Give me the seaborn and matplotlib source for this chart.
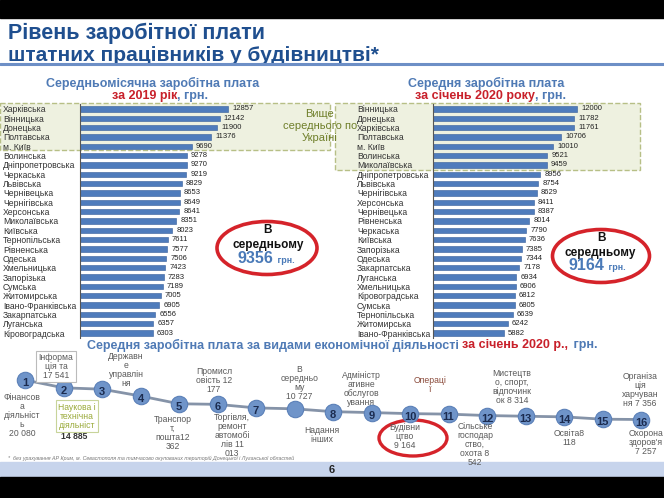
import matplotlib
matplotlib.use('Agg')
import matplotlib.pyplot as plt
import seaborn as sns
import pandas as pd
from matplotlib.patches import Rectangle, Ellipse

# ---------------- data ----------------
regions_2019 = ['Харківська', 'Вінницька', 'Донецька', 'Полтавська', 'м. Київ', 'Волинська',
                'Дніпропетровська', 'Черкаська', 'Львівська', 'Чернівецька', 'Чернігівська',
                'Херсонська', 'Миколаївська', 'Київська', 'Тернопільська', 'Рівненська',
                'Одеська', 'Хмельницька', 'Запорізька', 'Сумська', 'Житомирська',
                'Івано-Франківська', 'Закарпатська', 'Луганська', 'Кіровоградська']
wages_2019 = [12857, 12142, 11900, 11376, 9690, 9278, 9270, 9219, 8829, 8653, 8649, 8641,
              8351, 8023, 7611, 7577, 7506, 7423, 7283, 7189, 7005, 6905, 6556, 6357, 6303]

regions_2020 = ['Вінницька', 'Донецька', 'Харківська', 'Полтавська', 'м. Київ', 'Волинська',
                'Миколаївська', 'Дніпропетровська', 'Львівська', 'Чернігівська', 'Херсонська',
                'Чернівецька', 'Рівненська', 'Черкаська', 'Київська', 'Запорізька', 'Одеська',
                'Закарпатська', 'Луганська', 'Хмельницька', 'Кіровоградська', 'Сумська',
                'Тернопільська', 'Житомирська', 'Івано-Франківська']
wages_2020 = [12000, 11782, 11761, 10706, 10010, 9521, 9459, 8956, 8754, 8629, 8411, 8387,
              8014, 7790, 7636, 7385, 7344, 7178, 6934, 6906, 6812, 6805, 6639, 6242, 5882]

avg_2019 = 9356
avg_2020 = 9164

sector_nums = ['1', '2', '3', '4', '5', '6', '7', '', '8', '9', '10', '11', '12', '13', '14', '15', '16']
sector_vals = [20080, 17541, 17100, 14885, 12362, 12177, 11013, 10727, 9800, 9500, 9164,
               9000, 8542, 8314, 8118, 7356, 7257]
sector_labels = ['Фінансов\nа\nдіяльніст\nь\n20 080',
                 'Інформа\nція та\n17 541',
                 'Державн\nе\nуправлін\nня',
                 'Наукова і\nтехнічна\nдіяльніст',
                 'Транспор\nт,\nпошта12\n362',
                 'Промисл\nовість 12\n177',
                 'Торгівля,\nремонт\nавтомобі\nлів 11\n013',
                 'В\nсередньо\nму\n10 727',
                 'Надання\nінших',
                 'Адміністр\nативне\nобслугов\nування',
                 'Будівни\nцтво\n9 164',
                 'Операці\nї',
                 'Сільське\nгосподар\nство,\nохота 8\n542',
                 'Мистецтв\nо, спорт,\nвідпочинк\nок 8 314',
                 'Освіта8\n118',
                 'Організа\nція\nхарчуван\nня 7 356',
                 'Охорона\nздоров\'я\n7 257']

# ---------------- style ----------------
sns.set_theme(style='white')
plt.rcParams['font.family'] = ['Liberation Sans', 'DejaVu Sans']

W, H = 664, 498
fig = plt.figure(figsize=(6.64, 4.98), dpi=100)
fig.patch.set_facecolor('white')

def frect(x0, y0, x1, y1):
    return [x0 / W, 1 - y1 / H, (x1 - x0) / W, (y1 - y0) / H]

BLUE_T = '#1f4f8f'
BLUE_S = '#4f7ab5'
RED = '#c8202a'
BAR = '#4f7cbc'

bg = fig.add_axes([0, 0, 1, 1])
bg.set_xlim(0, W)
bg.set_ylim(H, 0)
bg.axis('off')

# bands
bg.add_patch(Rectangle((0, 0), W, 18, color='black', zorder=5))
bg.add_patch(Rectangle((0, 477), W, 21, color='black', zorder=5))
bg.add_patch(Rectangle((0, 462), W, 15, color='#c7d4ec', zorder=1))
bg.text(332, 470, '6', ha='center', va='center', fontsize=8, fontweight='bold', color='#222')

# title
bg.text(8, 33, 'Рівень заробітної плати', ha='left', va='center', fontsize=15.5,
        fontweight='bold', color=BLUE_T)
bg.text(8, 55, 'штатних працівників у будівництві*', ha='left', va='center', fontsize=15,
        fontweight='bold', color=BLUE_T)
bg.plot([0, W], [64, 64], color='#6d8fc6', lw=2.2, zorder=4)

# highlight boxes
bg.add_patch(Rectangle((0, 103), 330, 47, facecolor='#eef1e0', edgecolor='#b7bf86',
                       ls='--', lw=1, zorder=1))
bg.add_patch(Rectangle((335, 103), 305, 67, facecolor='#eef1e0', edgecolor='#b7bf86',
                       ls='--', lw=1, zorder=1))
bg.text(320, 126, 'Вище\nсереднього по\nУкраїні', ha='center', va='center', fontsize=8,
        color='#6f7f2a', linespacing=1.2, zorder=2)

# subtitles
bg.text(153, 83, 'Середньомісячна заробітна плата', ha='center', va='center', fontsize=9,
        fontweight='bold', color=BLUE_S)
bg.text(177, 96, 'за 2019 рік', ha='right', va='center', fontsize=9, fontweight='bold', color=RED)
bg.text(177, 96, ', грн.', ha='left', va='center', fontsize=9, fontweight='bold', color=BLUE_S)
bg.text(486, 83, 'Середня заробітна плата', ha='center', va='center', fontsize=9,
        fontweight='bold', color=BLUE_S)
bg.text(535, 96, 'за січень 2020 року', ha='right', va='center', fontsize=9, fontweight='bold', color=RED)
bg.text(535, 96, ', грн.', ha='left', va='center', fontsize=9, fontweight='bold', color=BLUE_S)

# ellipses
bg.add_patch(Ellipse((267, 248), 100, 53, fill=False, ec='#d5232a', lw=2.6, zorder=3))
bg.text(268, 230, 'В', ha='center', va='center', fontsize=8.5, fontweight='bold', color='#111')
bg.text(268, 245, 'середньому', ha='center', va='center', fontsize=8.5, fontweight='bold', color='#111')
bg.text(273, 263, f'{avg_2019}', ha='right', va='baseline', fontsize=11.5, fontweight='bold', color='#4a7ab8')
bg.text(275, 263, ' грн.', ha='left', va='baseline', fontsize=6.5, fontweight='bold', color='#4a7ab8')

bg.add_patch(Ellipse((601, 256), 97, 53, fill=False, ec='#d5232a', lw=2.6, zorder=3))
bg.text(602, 238, 'В', ha='center', va='center', fontsize=8.5, fontweight='bold', color='#111')
bg.text(600, 253, 'середньому', ha='center', va='center', fontsize=8.5, fontweight='bold', color='#111')
bg.text(604, 270, f'{avg_2020}', ha='right', va='baseline', fontsize=11.5, fontweight='bold', color='#4a7ab8')
bg.text(606, 270, ' грн.', ha='left', va='baseline', fontsize=6.5, fontweight='bold', color='#4a7ab8')

# bottom title
bg.text(462, 345, 'Середня заробітна плата за видами економічної діяльності ', ha='right',
        va='center', fontsize=9, fontweight='bold', color=BLUE_S)
bg.text(462, 345, 'за січень 2020 р.,', ha='left', va='center', fontsize=9,
        fontweight='bold', color=RED)
bg.text(570, 345, ' грн.', ha='left', va='center', fontsize=9, fontweight='bold', color=BLUE_S)

# footnote
bg.text(8, 458, '*  без урахування АР Крим, м. Севастополя та тимчасово окупованих територій '
        'Донецької і Луганської областей', ha='left', va='center', fontsize=3.8,
        style='italic', color='#777')

# ---------------- bar charts ----------------
def bar_panel(rect, cats, vals, xmax, pad_px):
    ax = fig.add_axes(rect)
    df = pd.DataFrame({'region': cats, 'wage': vals})
    sns.barplot(data=df, x='wage', y='region', orient='h', color=BAR, saturation=1,
                width=0.55, edgecolor='#355d9a', linewidth=0.4, ax=ax)
    ax.set_xlim(0, xmax)
    ax.set_ylim(len(cats) - 0.5, -0.5)
    ax.set_facecolor('none')
    ax.set_xlabel('')
    ax.set_ylabel('')
    ax.set_xticks([])
    for s in ['top', 'right', 'bottom']:
        ax.spines[s].set_visible(False)
    ax.spines['left'].set_color('#555')
    ax.spines['left'].set_linewidth(0.8)
    ax.tick_params(axis='y', length=0, pad=pad_px * 0.72, labelsize=6.2, labelcolor='#333')
    for lab in ax.get_yticklabels():
        lab.set_horizontalalignment('left')
    ax.bar_label(ax.containers[0], labels=[str(v) for v in vals], padding=3,
                 fontsize=5.5, color='#222')
    return ax

bar_panel(frect(80, 104.3, 330, 337.7), regions_2019, wages_2019, 250 / (148 / 12857), 77)
bar_panel(frect(433, 104.3, 633, 337.7), regions_2020, wages_2020, 200 / (144 / 12000), 76)

# ---------------- sector line ----------------
ax3 = fig.add_axes(frect(25, 380, 641, 419.5))
ax3.set_facecolor('none')
pos = list(range(len(sector_vals)))
df3 = pd.DataFrame({'pos': pos, 'val': sector_vals})
sns.lineplot(data=df3, x='pos', y='val', ax=ax3, color='#8593a8', lw=2, zorder=2)
sns.scatterplot(data=df3, x='pos', y='val', ax=ax3, s=140, color='#6f94c9',
                edgecolor='#5b80b8', linewidth=0.8, zorder=3)
ax3.set_xlim(0, 16)
ax3.set_ylim(7257, 20080)
ax3.axis('off')
for art in ax3.collections + ax3.lines:
    art.set_clip_on(False)

for i, (n, v) in enumerate(zip(sector_nums, sector_vals)):
    if n:
        ax3.annotate(n, (i, v), xytext=(0, -3), textcoords='offset pixels', ha='center',
                     va='center', fontsize=8, fontweight='bold', color='#1b2b4f', zorder=4)

# label offsets (pixels right, pixels down) relative to each point
offsets = [(-3, 35), (-7.5, -21), (24, -19), (-63.5, 20), (-6, 29), (-3.5, -24), (-24, 28),
           (5, -26), (-11, 23), (-10, -24), (-5, 23), (-18.5, -29), (-12, 29), (-13.5, -29),
           (5, 21), (37.5, -29), (5, 23)]
for i, (lab, (dx, dy)) in enumerate(zip(sector_labels, offsets)):
    kw = dict(fontsize=6.2, color='#5a5a5a', linespacing=1.0)
    if i == 1:
        kw['bbox'] = dict(boxstyle='square,pad=0.25', fc='white', ec='#bbbbbb', lw=0.8)
    if i == 3:
        kw['bbox'] = dict(boxstyle='square,pad=0.25', fc='white', ec='#c8d49a', lw=0.8)
        kw['color'] = '#9aaa3a'
    if i == 11:
        kw['color'] = '#8a4a3a'
    ax3.annotate(lab, (i, sector_vals[i]), xytext=(dx, -dy), textcoords='offset pixels',
                 ha='center', va='center', annotation_clip=False, **kw)

# value under the science box
ax3.annotate('14 885', (3, sector_vals[3]), xytext=(-66.5, -40), textcoords='offset pixels',
             ha='center', va='center', fontsize=6.2, fontweight='bold', color='#333')

# red ellipse around construction
bg.add_patch(Ellipse((413, 438), 68, 36, fill=False, ec='#d5232a', lw=2.4, zorder=3))

fig.savefig('out.png', dpi=100, facecolor='white')
